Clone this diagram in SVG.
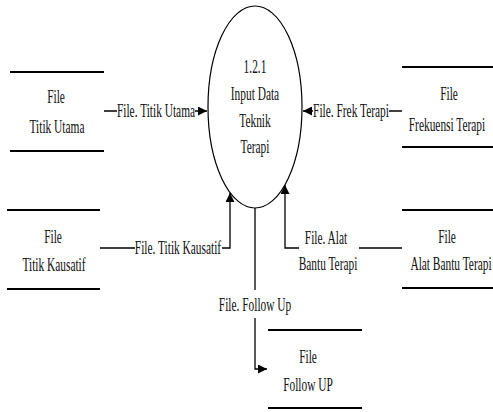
<svg xmlns="http://www.w3.org/2000/svg" width="493" height="412" viewBox="0 0 493 412">
  <style>
    .t { font-family: "Liberation Serif", "Times New Roman", serif; font-size: 18px; fill: #111; text-anchor: middle; }
    .store line { stroke: #000; stroke-width: 1.8; }
    .proc { fill: #fff; stroke: #000; stroke-width: 1.2; }
    .flow { fill: none; stroke: #000; stroke-width: 1.3; }
    .lbl-bg { fill: #fff; }
  </style>
  <defs>
    <marker id="arrow" markerUnits="userSpaceOnUse" markerWidth="10" markerHeight="9" refX="9" refY="4.5" orient="auto">
      <path d="M0,0 L9,4.5 L0,9 z" fill="#000"/>
    </marker>
  </defs>

  <rect width="493" height="412" fill="#fff"/>

  <!-- process -->
  <g id="proc-1-2-1">
    <ellipse class="proc" cx="255" cy="107" rx="47" ry="101"/>
    <text class="t" transform="translate(255,73) scale(0.633,1)">1.2.1</text>
    <text class="t" transform="translate(255,100) scale(0.633,1)">Input Data</text>
    <text class="t" transform="translate(255,126.5) scale(0.633,1)">Teknik</text>
    <text class="t" transform="translate(255,153) scale(0.633,1)">Terapi</text>
  </g>

  <!-- data stores -->
  <g id="store-titik-utama" class="store">
    <line x1="10" y1="72" x2="104" y2="72"/>
    <line x1="10" y1="151" x2="104" y2="151"/>
    <text class="t" transform="translate(56,103) scale(0.633,1)">File</text>
    <text class="t" transform="translate(57,133) scale(0.633,1)">Titik Utama</text>
  </g>

  <g id="store-frekuensi-terapi" class="store">
    <line x1="402" y1="67" x2="493" y2="67"/>
    <line x1="402" y1="147" x2="493" y2="147"/>
    <text class="t" transform="translate(449,100) scale(0.633,1)">File</text>
    <text class="t" transform="translate(447,131) scale(0.633,1)">Frekuensi Terapi</text>
  </g>

  <g id="store-titik-kausatif" class="store">
    <line x1="7" y1="210" x2="100" y2="210"/>
    <line x1="7" y1="289" x2="100" y2="289"/>
    <text class="t" transform="translate(53,243) scale(0.633,1)">File</text>
    <text class="t" transform="translate(54,271) scale(0.633,1)">Titik Kausatif</text>
  </g>

  <g id="store-alat-bantu-terapi" class="store">
    <line x1="402" y1="210" x2="493" y2="210"/>
    <line x1="402" y1="288" x2="493" y2="288"/>
    <text class="t" transform="translate(447,243) scale(0.633,1)">File</text>
    <text class="t" transform="translate(451,270) scale(0.633,1)">Alat Bantu Terapi</text>
  </g>

  <g id="store-follow-up" class="store">
    <line x1="268" y1="330" x2="362" y2="330"/>
    <line x1="268" y1="408" x2="362" y2="408"/>
    <text class="t" transform="translate(308,363) scale(0.633,1)">File</text>
    <text class="t" transform="translate(308,391) scale(0.633,1)">Follow UP</text>
  </g>

  <!-- data flows -->
  <g id="flows">
    <path class="flow" d="M104,111 H207" marker-end="url(#arrow)"/>
    <rect class="lbl-bg" x="117" y="101" width="78" height="20"/>
    <text class="t" transform="translate(156,117) scale(0.633,1)">File. Titik Utama</text>

    <path class="flow" d="M402,111 H303" marker-end="url(#arrow)"/>
    <rect class="lbl-bg" x="313" y="101" width="76" height="20"/>
    <text class="t" transform="translate(351,117) scale(0.633,1)">File. Frek Terapi</text>

    <path class="flow" d="M100,248 H230 V193" marker-end="url(#arrow)"/>
    <rect class="lbl-bg" x="135" y="238" width="87" height="20"/>
    <text class="t" transform="translate(178,254) scale(0.633,1)">File. Titik Kausatif</text>

    <path class="flow" d="M402,248 H285 V185" marker-end="url(#arrow)"/>
    <rect class="lbl-bg" x="299" y="226" width="60" height="50"/>
    <text class="t" transform="translate(326,244) scale(0.633,1)">File. Alat</text>
    <text class="t" transform="translate(328,270) scale(0.633,1)">Bantu Terapi</text>

    <path class="flow" d="M255,208 V369 H267" marker-end="url(#arrow)"/>
    <rect class="lbl-bg" x="219" y="290" width="72" height="28"/>
    <text class="t" transform="translate(255,311) scale(0.633,1)">File. Follow Up</text>
  </g>
</svg>
